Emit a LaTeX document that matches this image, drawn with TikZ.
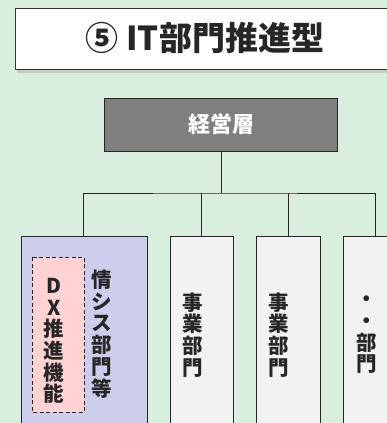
\documentclass[tikz,border=0pt]{standalone}
\usepackage{fontspec}
\newfontfamily\jp{Noto Sans CJK JP}
\usetikzlibrary{shadows}
\definecolor{bg}{HTML}{DAEEE0}
\definecolor{lav}{HTML}{CDCDEE}
\definecolor{pinkf}{HTML}{FFD3D3}
\definecolor{boxg}{HTML}{F2F2F2}
\definecolor{topg}{HTML}{7F7F7F}
\begin{document}
\begin{tikzpicture}[x=1pt,y=-1pt,
  line/.style={draw=black!85,line width=0.9pt},
  dept/.style={line,fill=boxg},
  vtext/.style={font=\jp\bfseries\fontsize{20.5}{21.7}\selectfont,align=center,inner sep=0pt,text=black!85}]
\useasboundingbox (0,0) rectangle (387,423);
\fill[bg] (0,0) rectangle (387,423);
% title
\path[draw=black!80,line width=0.9pt,fill=white,drop shadow={shadow xshift=2pt,shadow yshift=-4pt,opacity=0.3}] (15,8) rectangle (400,69);
\node[font=\jp\bfseries\fontsize{33}{35}\selectfont,text=black!85] (title) at (205,38) {⑤ IT部門推進型};
% top
\node[line,fill=topg,minimum width=233pt,minimum height=53pt,inner sep=0pt,font=\jp\bfseries\fontsize{22}{24}\selectfont,text=white] (top) at (221,124.5) {経営層};
% departments
\path[line,fill=lav] (21,236) rectangle (147,430);
\path[dept] (170,236) rectangle (233,430);
\path[dept] (256,236) rectangle (320,430);
\path[dept] (343,236) rectangle (400,430);
\path[draw=black!85,line width=0.8pt,dash pattern=on 4pt off 2.5pt,fill=pinkf] (32,257) rectangle (84,412);
\coordinate (d1) at (83,236);
\coordinate (d2) at (201,236);
\coordinate (d3) at (288,236);
\coordinate (d4) at (375,236);
\coordinate (j) at (221,193);
\draw[line] (top.south) -- (j);
\draw[line] (d1) |- (j) -| (d4);
\draw[line] (d2) -- (d2 |- j);
\draw[line] (d3) -- (d3 |- j);
% texts
\node[vtext] (dx) at (54,341) {D\\X\\推\\進\\機\\能};
\node[vtext] (jo) at (102,334) {情\\シ\\ス\\部\\門\\等};
\node[vtext] (j1) at (193,335) {事\\業\\部\\門};
\node[vtext] (j2) at (279,335) {事\\業\\部\\門};
\node[vtext] (j3) at (367,335) {・\\・\\部\\門};
\end{tikzpicture}
\end{document}
